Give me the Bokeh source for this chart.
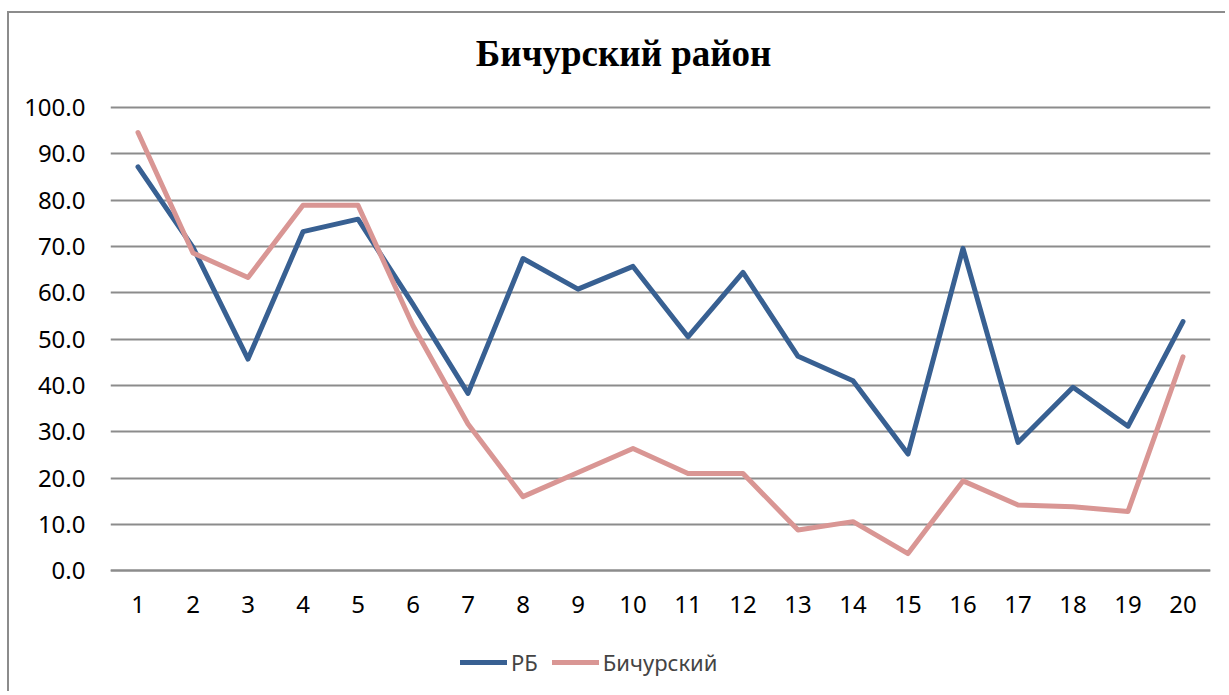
from bokeh.plotting import figure
from bokeh.models import Range1d, FixedTicker, NumeralTickFormatter, Legend, LegendItem, Label, ColumnDataSource
from bokeh.embed import file_html
from bokeh.resources import INLINE

categories = [1, 2, 3, 4, 5, 6, 7, 8, 9, 10, 11, 12, 13, 14, 15, 16, 17, 18, 19, 20]
rb = [87.2, 69.8, 45.7, 73.2, 75.9, 57.5, 38.3, 67.4, 60.8, 65.7, 50.5, 64.4, 46.3, 41.0, 25.2, 69.6, 27.7, 39.6, 31.2, 53.8]
bichura = [94.6, 68.6, 63.3, 78.9, 78.9, 52.9, 31.7, 16.0, 21.2, 26.4, 21.0, 21.0, 8.8, 10.6, 3.7, 19.4, 14.2, 13.8, 12.8, 46.2]
series_names = ["РБ", "Бичурский"]
title_text = "Бичурский район"
y_ticks = [0, 10, 20, 30, 40, 50, 60, 70, 80, 90, 100]

BLUE = "#386092"
PINK = "#D99694"
GRID = "#8c8c8c"
TICK_FONT = "Noto Sans"

# frame spans the whole chart height, so title, category labels and legend sit inside it
p = figure(width=1218, height=680, output_backend="svg", toolbar_location=None,
           x_range=Range1d(0.5, 20.5), y_range=Range1d(-26.5, 120.3),
           min_border_left=101, min_border_right=17, min_border_top=0, min_border_bottom=0)
p.styles = {"margin-left": "7px", "margin-top": "11px",
            "border-left": "2px solid #8c8c8c", "border-top": "2px solid #8c8c8c"}
p.outline_line_color = None
p.background_fill_color = "white"
p.border_fill_color = "white"

src = ColumnDataSource(dict(x=categories, rb=rb, bi=bichura))
r1 = p.line("x", "rb", source=src, line_color=BLUE, line_width=5, line_join="round", line_cap="round")
r2 = p.line("x", "bi", source=src, line_color=PINK, line_width=5, line_join="round", line_cap="round")

p.xgrid.grid_line_color = None
p.ygrid.grid_line_color = GRID
p.ygrid.grid_line_width = 2
p.ygrid.ticker = FixedTicker(ticks=y_ticks)

p.yaxis.ticker = FixedTicker(ticks=y_ticks)
p.yaxis.formatter = NumeralTickFormatter(format="0.0")
p.yaxis.axis_line_color = None
p.yaxis.major_tick_line_color = None
p.yaxis.minor_tick_line_color = None
p.yaxis.major_tick_out = 0
p.yaxis.major_label_standoff = 25
p.yaxis.major_label_text_font = TICK_FONT
p.yaxis.major_label_text_font_size = "24px"
p.yaxis.major_label_text_color = "black"

p.xaxis.fixed_location = 0
p.xaxis.ticker = FixedTicker(ticks=categories)
p.xaxis.axis_line_color = GRID
p.xaxis.axis_line_width = 2
p.xaxis.major_tick_line_color = None
p.xaxis.minor_tick_line_color = None
p.xaxis.major_tick_out = 0
p.xaxis.major_label_standoff = 25
p.xaxis.major_label_text_font = TICK_FONT
p.xaxis.major_label_text_font_size = "24px"
p.xaxis.major_label_text_color = "black"

title = Label(x=9.83, y=111.6, text=title_text, text_font="Liberation Serif", text_font_style="bold",
              text_font_size="37px", text_align="center", text_baseline="middle", text_color="black")
p.add_layout(title)

legend = Legend(items=[LegendItem(label=series_names[0], renderers=[r1]),
                       LegendItem(label=series_names[1], renderers=[r2])],
                orientation="horizontal", location=(350, 16),
                label_text_font=TICK_FONT, label_text_font_size="22px",
                glyph_width=47, glyph_height=20, label_standoff=4, spacing=14, label_width=0,
                padding=0, margin=0, border_line_color=None, background_fill_alpha=0)
p.add_layout(legend)

open("out.html", "w").write(file_html(p, INLINE))
